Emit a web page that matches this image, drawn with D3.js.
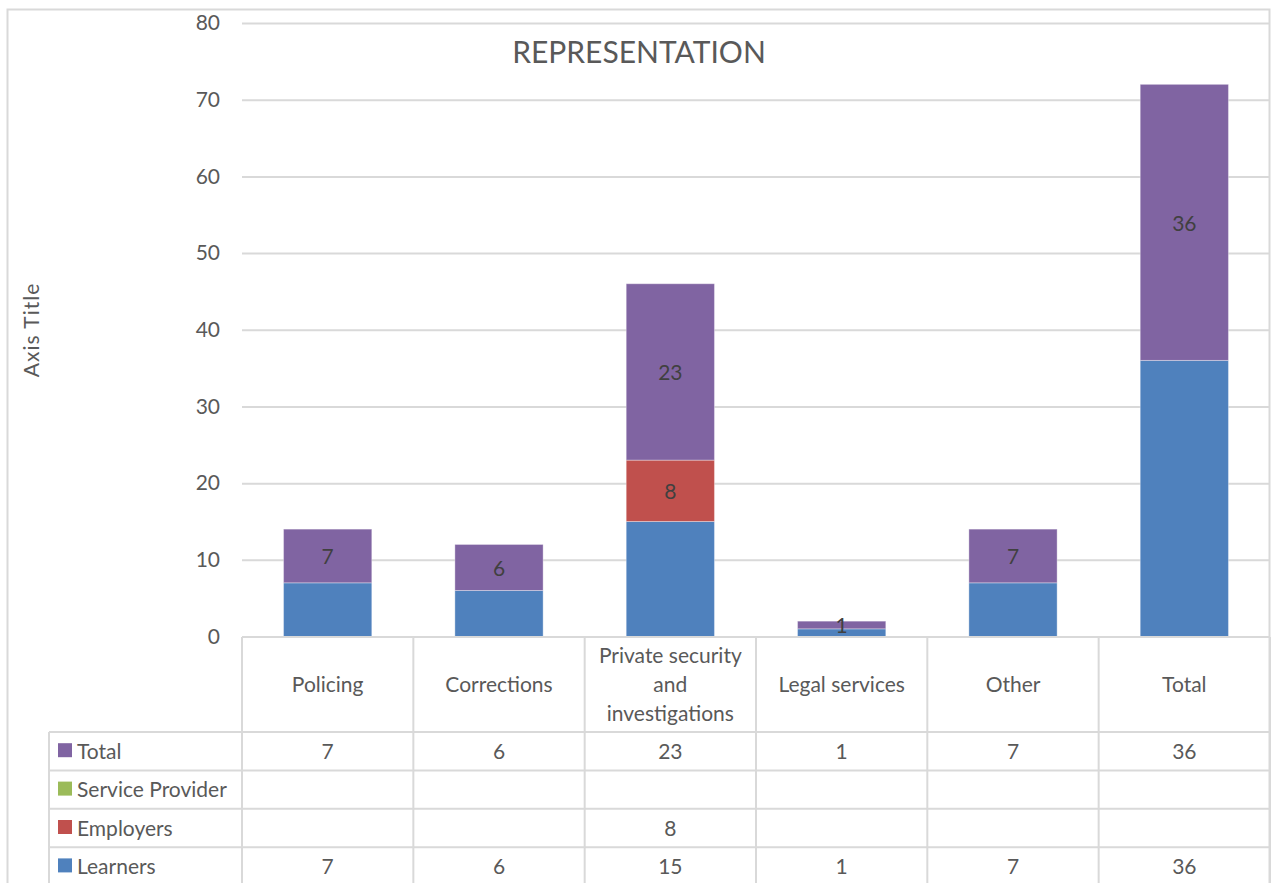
<!DOCTYPE html>
<html>
<head>
<meta charset="utf-8">
<script src="https://cdn.jsdelivr.net/npm/d3@7/dist/d3.min.js"></script>
<style>
  html, body { margin: 0; padding: 0; background: #fff; }
  svg { display: block; }
  text { font-family: Lato, "Open Sans", sans-serif; fill: #595959; }
</style>
</head>
<body>
<svg id="chart" width="1271" height="883"></svg>
<script>
// Sector categories along the x axis
const categories = ["Policing", "Corrections", "Private security and investigations", "Legal services", "Other", "Total"];
const categoryLines = [["Policing"], ["Corrections"], ["Private security", "and", "investigations"], ["Legal services"], ["Other"], ["Total"]];

// Series values per category (null = no entry)
const learners        = [7, 6, 15, 1, 7, 36];
const employers       = [null, null, 8, null, null, null];
const serviceProvider = [null, null, null, null, null, null];
const total           = [7, 6, 23, 1, 7, 36];

const yTicks = [0, 10, 20, 30, 40, 50, 60, 70, 80];

const seriesDefs = [
  { name: "Learners",         values: learners,        color: "#4f81bd", label: false },
  { name: "Employers",        values: employers,       color: "#c0504d", label: true },
  { name: "Service Provider", values: serviceProvider, color: "#9bbb59", label: true },
  { name: "Total",            values: total,           color: "#8064a2", label: true }
];

const FS = 21;
const svg = d3.select("#chart");
const W = 1271, H = 883;
const plot = { left: 242, right: 1270, top: 23, bottom: 636.5 };
const grid = "#d9d9d9";

// outer chart frame
svg.append("rect").attr("x", 7.5).attr("y", 9.5).attr("width", W - 9).attr("height", H)
  .attr("fill", "#fff").attr("stroke", grid).attr("stroke-width", 2);

const x = d3.scaleBand().domain(categories).range([plot.left, plot.right]).paddingInner(0).paddingOuter(0);
const y = d3.scaleLinear().domain([0, 80]).range([plot.bottom, plot.top]);
const barW = x.bandwidth() * 0.515;

// gridlines + y labels
const yAxis = d3.axisLeft(y).tickValues(yTicks).tickSize(-(plot.right - plot.left)).tickPadding(22);
const gy = svg.append("g").attr("transform", `translate(${plot.left},0)`).call(yAxis);
gy.select(".domain").remove();
gy.selectAll(".tick line").attr("stroke", grid).attr("stroke-width", 2);
gy.selectAll(".tick text").attr("font-size", FS).attr("fill", "#595959")
  .style("font-family", "Lato, 'Open Sans', sans-serif");

// stacked data
const rows = categories.map((c, i) => {
  const r = { category: c };
  seriesDefs.forEach(s => { r[s.name] = s.values[i] || 0; });
  return r;
});
const stack = d3.stack().keys(seriesDefs.map(s => s.name))(rows);

stack.forEach((layer, li) => {
  const def = seriesDefs[li];
  const g = svg.append("g");
  layer.forEach((d, i) => {
    const v = def.values[i];
    if (!v) return;
    const cx = x(categories[i]) + x.bandwidth() / 2;
    g.append("rect")
      .attr("x", cx - barW / 2).attr("width", barW)
      .attr("y", y(d[1])).attr("height", y(d[0]) - y(d[1]))
      .attr("fill", def.color)
      .attr("stroke", "rgba(255,255,255,0.35)").attr("stroke-width", 1);
    if (def.label) {
      g.append("text")
        .attr("x", cx).attr("y", (y(d[0]) + y(d[1])) / 2)
        .attr("text-anchor", "middle").attr("dominant-baseline", "central")
        .attr("font-size", FS).style("fill", "#404040")
        .text(v);
    }
  });
});

// title
svg.append("text").attr("x", 639).attr("y", 51).attr("text-anchor", "middle")
  .attr("dominant-baseline", "central").attr("font-size", 30).text("REPRESENTATION");

// axis title
svg.append("text").attr("transform", "translate(30,330) rotate(-90)")
  .attr("text-anchor", "middle").attr("dominant-baseline", "central")
  .attr("font-size", FS).attr("letter-spacing", 1).text("Axis Title");

// data table
const headTop = plot.bottom + 0.5, headBottom = 732;
const rowH = 38.4;
const legendLeft = 49;
const tableRows = seriesDefs.slice().reverse();
const tableBottom = headBottom + rowH * tableRows.length;
const t = svg.append("g").attr("stroke", grid).attr("stroke-width", 2).attr("fill", "none");

// horizontal lines
t.append("line").attr("x1", plot.left).attr("x2", plot.right).attr("y1", headTop).attr("y2", headTop);
for (let k = 0; k <= tableRows.length; k++) {
  const yy = headBottom + k * rowH;
  t.append("line").attr("x1", legendLeft).attr("x2", plot.right).attr("y1", yy).attr("y2", yy);
}
// vertical lines
t.append("line").attr("x1", legendLeft).attr("x2", legendLeft).attr("y1", headBottom).attr("y2", tableBottom);
const bounds = categories.map(c => x(c)).concat([plot.right]);
bounds.forEach(bx => {
  t.append("line").attr("x1", bx).attr("x2", bx).attr("y1", headTop).attr("y2", tableBottom);
});

// category headers
categoryLines.forEach((lines, i) => {
  const cx = x(categories[i]) + x.bandwidth() / 2;
  const mid = (headTop + headBottom) / 2 - 1;
  const lh = 29;
  lines.forEach((ln, j) => {
    svg.append("text").attr("x", cx).attr("y", mid + (j - (lines.length - 1) / 2) * lh)
      .attr("text-anchor", "middle").attr("dominant-baseline", "central")
      .attr("font-size", FS).text(ln);
  });
});

// series rows
tableRows.forEach((s, k) => {
  const cy = headBottom + k * rowH + rowH / 2 - 1;
  svg.append("rect").attr("x", 58).attr("y", cy - 7).attr("width", 14).attr("height", 14).attr("fill", s.color);
  svg.append("text").attr("x", 77).attr("y", cy).attr("dominant-baseline", "central")
    .attr("font-size", FS).text(s.name);
  s.values.forEach((v, i) => {
    if (v == null) return;
    svg.append("text").attr("x", x(categories[i]) + x.bandwidth() / 2).attr("y", cy)
      .attr("text-anchor", "middle").attr("dominant-baseline", "central")
      .attr("font-size", FS).text(v);
  });
});
</script>
</body>
</html>
